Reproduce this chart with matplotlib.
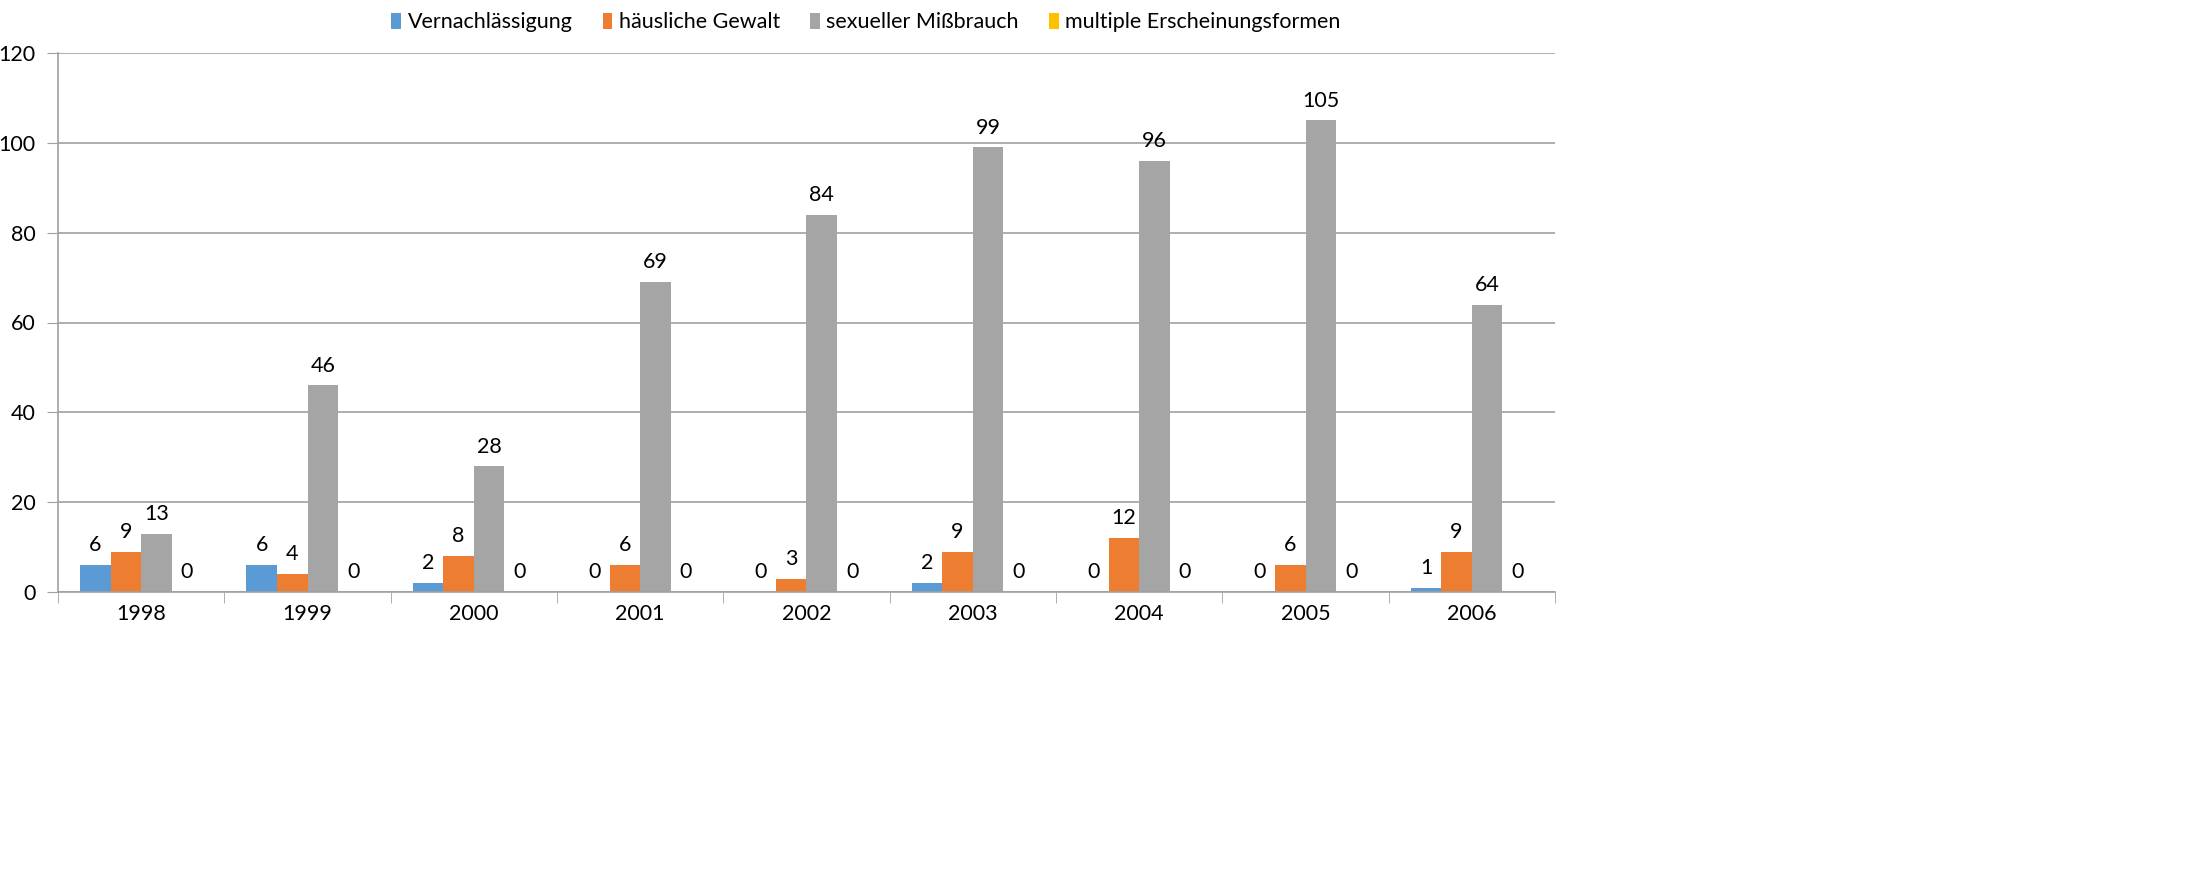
import matplotlib.pyplot as plt
import numpy as np

plt.rcParams['font.family'] = ['Lato', 'DejaVu Sans']

years = ["1998", "1999", "2000", "2001", "2002", "2003", "2004", "2005", "2006"]
vernachlaessigung = [6, 6, 2, 0, 0, 2, 0, 0, 1]
haeusliche_gewalt = [9, 4, 8, 6, 3, 9, 12, 6, 9]
sexueller_missbrauch = [13, 46, 28, 69, 84, 99, 96, 105, 64]
multiple = [0, 0, 0, 0, 0, 0, 0, 0, 0]

series = [
    ("Vernachlässigung", vernachlaessigung, "#5B9BD5"),
    ("häusliche Gewalt", haeusliche_gewalt, "#ED7D31"),
    ("sexueller Mißbrauch", sexueller_missbrauch, "#A5A5A5"),
    ("multiple Erscheinungsformen", multiple, "#FFC000"),
]

fig = plt.figure(figsize=(21.88, 8.75), dpi=100)
ax = fig.add_axes([58 / 2188, 1 - 592 / 875, (1555 - 58) / 2188, (592 - 53) / 875])

x = np.arange(len(years))
w = 1 / 5.45
for i, (name, vals, col) in enumerate(series):
    pos = x - 1.5 * w + i * w
    ax.bar(pos, vals, width=w, color=col, label=name)
    for xp, v in zip(pos, vals):
        ax.annotate(str(v), (xp, v), xytext=(0, 7), textcoords="offset points",
                    ha="center", va="bottom", fontsize=15.5)

ax.set_xlim(-0.5, len(years) - 0.5)
ax.set_ylim(0, 120)
ax.set_yticks(range(0, 121, 20))
ax.set_xticks(x)
ax.set_xticklabels(years)
ax.set_xticks(np.arange(-0.5, len(years)), minor=True)
ax.tick_params(axis="x", which="major", length=0, labelsize=15.5, pad=9)
ax.tick_params(axis="x", which="minor", length=8, color="#A0A0A0")
ax.tick_params(axis="y", length=8, color="#A0A0A0", labelsize=15.5, pad=8)
ax.grid(axis="y", color="#A0A0A0", linewidth=1.2)
ax.set_axisbelow(True)
for s in ["top", "right"]:
    ax.spines[s].set_visible(False)
for s in ["left", "bottom"]:
    ax.spines[s].set_color("#A0A0A0")
    ax.spines[s].set_linewidth(1.2)

fig.legend(loc="upper left", bbox_to_anchor=(372 / 2188, 1.008), ncol=4, frameon=False,
           fontsize=15.5, handlelength=0.45, handleheight=0.75, handletextpad=0.3,
           columnspacing=1.4)

plt.savefig("out.png", dpi=100)
